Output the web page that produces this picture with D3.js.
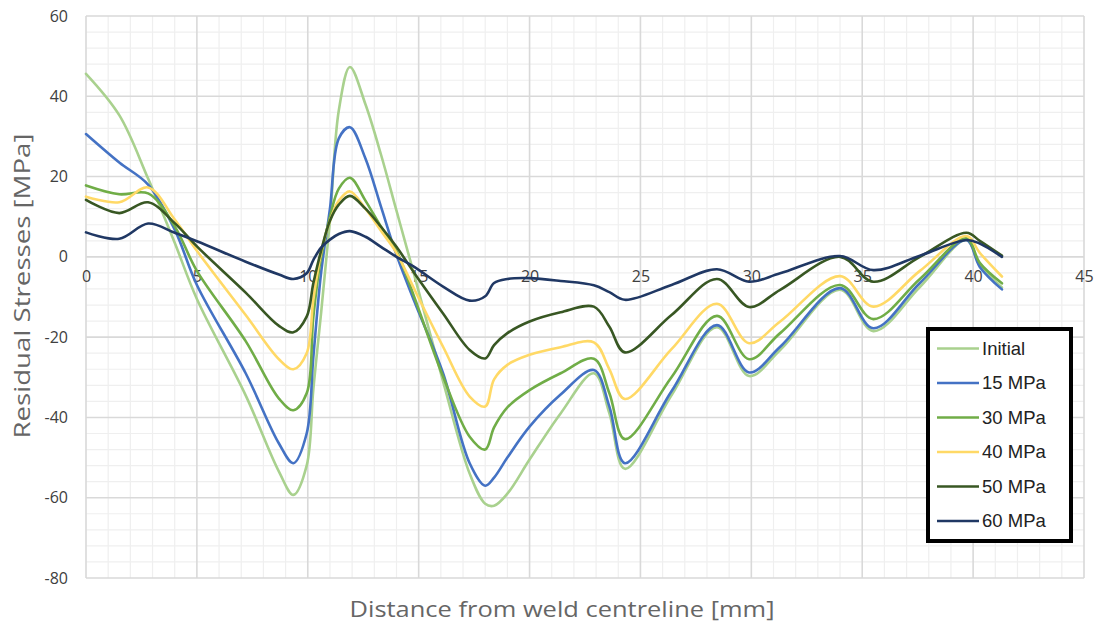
<!DOCTYPE html>
<html>
<head>
<meta charset="utf-8">
<script src="https://cdn.jsdelivr.net/npm/d3@7"></script>
<style>
  html, body { margin: 0; padding: 0; background: #fff; }
  svg { display: block; }
</style>
</head>
<body>
<svg id="chart" width="1102" height="630"></svg>
<script>
// ---- data ----
const xMM = [0, 1.5, 2.8, 4, 5, 7.2, 8.7, 9.35, 9.95, 10.25, 10.6, 11.0, 11.4, 11.9, 12.6, 13.3, 14.0, 14.8, 16.1, 17.3, 18.0, 18.4, 19.0, 20, 21.4, 22.9, 23.6, 24.3, 26.4, 28.45, 29.9, 31.3, 34.0, 35.5, 37.6, 39.7, 40.3, 41.3];
const sInitial = [45.6, 35.3, 19.5, 3.5, -10.5, -34.5, -53.5, -59.3, -52, -33, -14, 9, 36.5, 47.3, 38, 25.5, 11.5, -4.5, -31, -54, -61.5, -62, -59, -50.5, -39, -29, -39, -52.8, -34.5, -17.5, -29.7, -23.2, -8.2, -18.5, -7.5, 4.2, -2, -7.6];
const s15 = [30.6, 23.5, 18.0, 6.8, -7, -29, -46.5, -51.4, -44, -25, -4, 12, 29.5, 32.3, 24.5, 12.5, 0.5, -11, -29, -51.4, -57, -55, -50, -42.3, -34.3, -28.2, -37.3, -51.4, -33.5, -17.0, -28.8, -22.4, -7.8, -17.8, -6.5, 4.2, -2.5, -8.1];
const s30 = [17.8, 15.6, 15.8, 7.6, -3.5, -21, -35.3, -38.2, -34.0, -15, 0, 10, 17, 19.7, 14, 7.5, 1.5, -10, -29.8, -44.8, -48, -42.5, -37.5, -33.2, -29, -25.4, -34.0, -45.4, -30, -14.7, -25.5, -19.0, -7.0, -15.5, -5.5, 4.6, -1.5, -6.6];
const s40 = [15.0, 13.6, 17.3, 9.3, 1.5, -14.5, -25.5, -28.0, -24, -10.7, 1, 9, 14, 16.3, 12, 6.5, 1, -8, -22.4, -34.8, -37.3, -30.5, -26.9, -24.4, -22.5, -21.3, -28.0, -35.4, -23, -11.7, -21.5, -16.1, -4.8, -12.4, -3.5, 5.2, 1, -4.9];
const s50 = [14.2, 10.9, 13.6, 8.4, 2.6, -8.9, -17.2, -18.8, -14.9, -6.6, 1.5, 9, 13, 15.2, 12, 7.5, 2.5, -4.0, -14.1, -23.2, -25.3, -22, -19, -16.1, -13.8, -12.4, -17.4, -23.8, -14.5, -5.5, -12.5, -8.2, 0, -6.2, 0, 6.0, 4, 0.3];
const s60 = [6.1, 4.5, 8.3, 6.0, 3.9, -1.2, -4.4, -5.5, -4.1, -0.8, 2.3, 4.3, 5.7, 6.4, 5, 2.5, 0, -2.5, -7.4, -10.9, -9.8, -6.5, -5.5, -5.3, -6.0, -7.1, -8.8, -10.7, -7, -3.1, -6.2, -4.1, 0.2, -3.3, 0.3, 4.2, 3.3, 0];
const seriesNames = ["Initial", "15 MPa", "30 MPa", "40 MPa", "50 MPa", "60 MPa"];
const seriesValues = [sInitial, s15, s30, s40, s50, s60];
const seriesColors = ["#a9d18e", "#4472c4", "#70ad47", "#ffd966", "#385723", "#203864"];
const xTicks = [0, 5, 10, 15, 20, 25, 30, 35, 40, 45];
const yTicks = [-80, -60, -40, -20, 0, 20, 40, 60];
const xTitle = "Distance from weld centreline [mm]";
const yTitle = "Residual Stresses  [MPa]";

// ---- layout ----
const svg = d3.select("#chart");
const L = 86, R = 1084, T = 16, B = 578;
const x = d3.scaleLinear().domain([0, 45]).range([L, R]);
const y = d3.scaleLinear().domain([-80, 60]).range([B, T]);

// minor grid
const g = svg.append("g");
g.selectAll("line.mx").data(d3.range(0, 46, 1).filter(v => v % 5 !== 0)).enter().append("line")
  .attr("x1", d => x(d)).attr("x2", d => x(d)).attr("y1", T).attr("y2", B)
  .attr("stroke", "#efefef").attr("stroke-width", 1.2);
g.selectAll("line.my").data(d3.range(-80, 61, 4).filter(v => v % 20 !== 0)).enter().append("line")
  .attr("x1", L).attr("x2", R).attr("y1", d => y(d)).attr("y2", d => y(d))
  .attr("stroke", "#efefef").attr("stroke-width", 1.2);
// major grid
g.selectAll("line.Mx").data(xTicks).enter().append("line")
  .attr("x1", d => x(d)).attr("x2", d => x(d)).attr("y1", T).attr("y2", B)
  .attr("stroke", "#d9d9d9").attr("stroke-width", 1.6);
g.selectAll("line.My").data(yTicks).enter().append("line")
  .attr("x1", L).attr("x2", R).attr("y1", d => y(d)).attr("y2", d => y(d))
  .attr("stroke", "#d9d9d9").attr("stroke-width", 1.6);

// axes (labels only)
const fmt = d => String(d);
const yAxis = d3.axisLeft(y).tickValues(yTicks).tickSize(0).tickPadding(18).tickFormat(fmt);
const ya = svg.append("g").attr("transform", `translate(${L},0)`).call(yAxis);
ya.select(".domain").remove();
ya.selectAll("text").attr("font-family", "'Open Sans', sans-serif").attr("font-size", 16).attr("fill", "#404040");

const xAxis = d3.axisBottom(x).tickValues(xTicks).tickSize(0).tickPadding(14).tickFormat(fmt);
const xa = svg.append("g").attr("transform", `translate(0,${y(0)})`).call(xAxis);
xa.select(".domain").remove();
xa.selectAll("text").attr("font-family", "'Open Sans', sans-serif").attr("font-size", 16).attr("fill", "#404040");

// series
const line = d3.line().x((d, i) => x(xMM[i])).y(d => y(d)).curve(d3.curveCatmullRom.alpha(0.5));
seriesValues.forEach((vals, k) => {
  svg.append("path").datum(vals).attr("d", line)
    .attr("fill", "none").attr("stroke", seriesColors[k]).attr("stroke-width", 2.6)
    .attr("stroke-linejoin", "round").attr("stroke-linecap", "round");
});

// titles
svg.append("text").attr("x", 562).attr("y", 617).attr("text-anchor", "middle")
  .attr("font-family", "'Open Sans', sans-serif").attr("font-size", 21).attr("fill", "#666")
  .attr("textLength", 425).attr("lengthAdjust", "spacingAndGlyphs").text(xTitle);
svg.append("text").attr("transform", "translate(30,286) rotate(-90)").attr("text-anchor", "middle")
  .attr("font-family", "'Open Sans', sans-serif").attr("font-size", 21).attr("fill", "#666")
  .attr("textLength", 305).attr("lengthAdjust", "spacingAndGlyphs").text(yTitle);

// legend
const lg = svg.append("g");
lg.append("rect").attr("x", 928).attr("y", 329).attr("width", 143).attr("height", 212)
  .attr("fill", "#fff").attr("stroke", "#000").attr("stroke-width", 4);
seriesNames.forEach((name, k) => {
  const cy = 348.5 + k * 34.5;
  lg.append("line").attr("x1", 937).attr("x2", 979).attr("y1", cy).attr("y2", cy)
    .attr("stroke", seriesColors[k]).attr("stroke-width", 2.6);
  lg.append("text").attr("x", 982).attr("y", cy).attr("dy", "0.35em")
    .attr("font-family", "'Liberation Sans', Arial, sans-serif").attr("font-size", 18.5).attr("fill", "#222")
    .text(name);
});
</script>
</body>
</html>
